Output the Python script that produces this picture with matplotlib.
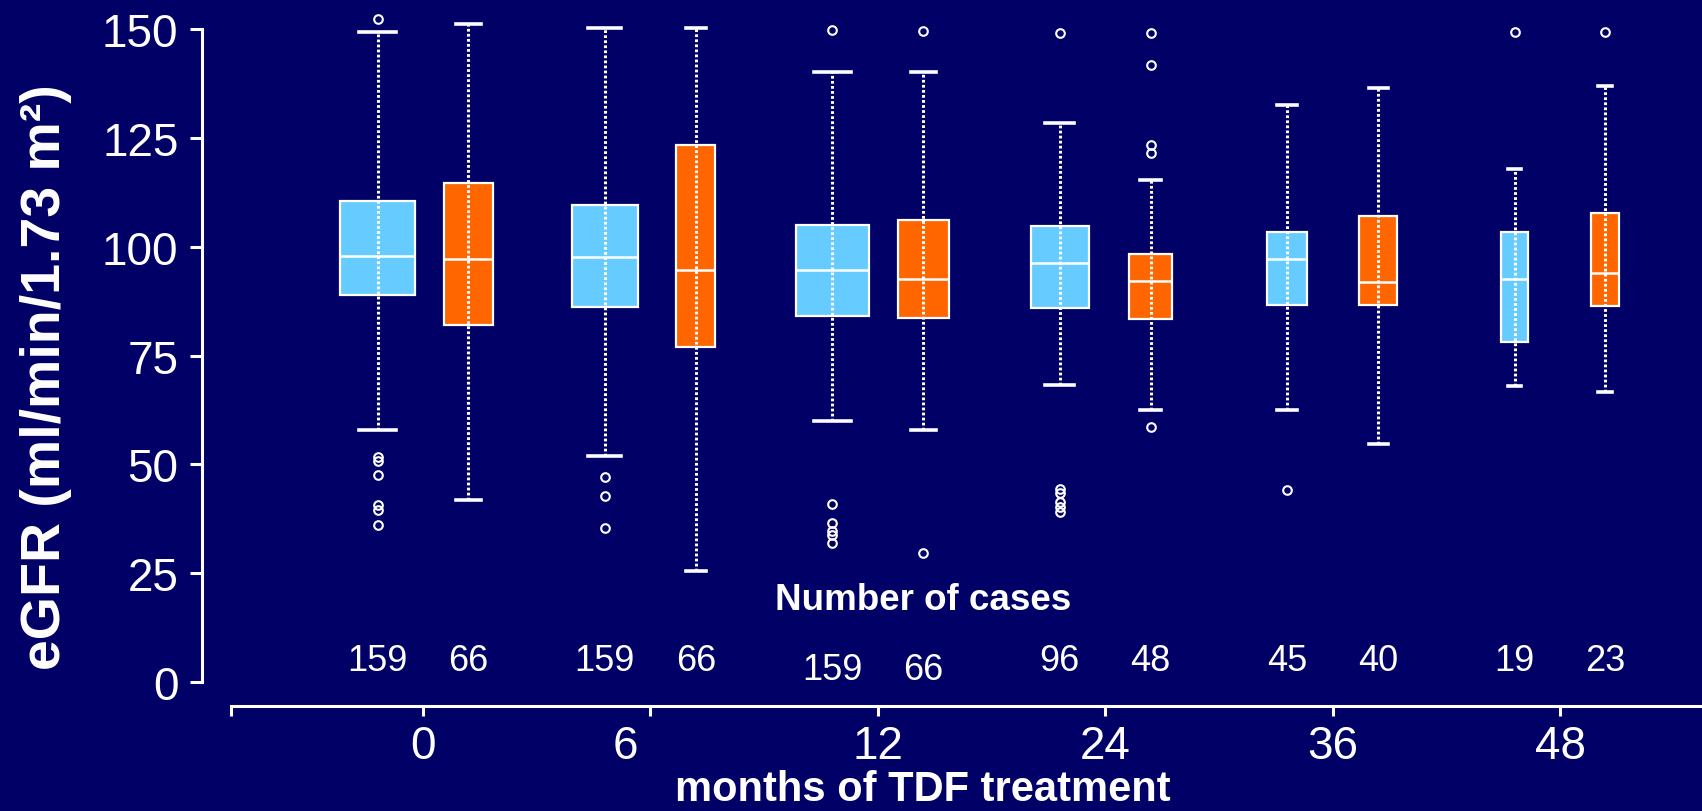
#!/usr/bin/env python3
"""
eGFR during TDF treatment: paired box plots per follow-up month,
with the number of cases written under each box.
"""

import matplotlib
matplotlib.use("Agg")
import matplotlib.pyplot as plt
from matplotlib.transforms import ScaledTranslation

# =========================================================
# Data
# =========================================================
months = ['0', '6', '12', '24', '36', '48']

# light blue series
blue_lo = [58.0, 51.9, 59.9, 68.2, 62.6, 68.0]
blue_q1 = [89.0, 86.2, 84.1, 86.0, 86.6, 78.2]
blue_med = [97.8, 97.6, 94.6, 96.2, 97.1, 92.7]
blue_q3 = [110.5, 109.6, 105.1, 104.9, 103.4, 103.4]
blue_hi = [149.3, 150.3, 140.3, 128.4, 132.6, 117.8]
blue_out = [[152.3, 51.7, 50.8, 47.5, 40.6, 39.6, 36.1],
            [47.2, 42.8, 35.4],
            [149.8, 40.8, 36.5, 34.7, 33.8, 31.9],
            [149.2, 44.3, 43.3, 41.4, 40.2, 39.0],
            [44.2],
            [149.5]]
blue_n = [159, 159, 159, 96, 45, 19]

# orange series
orange_lo = [41.8, 25.5, 58.0, 62.6, 54.6, 66.6]
orange_q1 = [82.1, 76.9, 83.7, 83.3, 86.6, 86.5]
orange_med = [97.2, 94.6, 92.5, 92.2, 91.9, 94.1]
orange_q3 = [114.7, 123.5, 106.1, 98.3, 107.1, 107.9]
orange_hi = [151.2, 150.3, 140.3, 115.3, 136.5, 137.0]
orange_out = [[], [], [149.6, 29.6], [149.2, 141.9, 123.5, 121.5, 58.5], [], [149.5]]
orange_n = [66, 66, 66, 48, 40, 23]

# =========================================================
# Style / layout
# =========================================================
BG = '#000066'
BLUE = '#66CCFF'
ORANGE = '#FF6600'
WHITE = 'white'

blue_w = [0.328, 0.289, 0.321, 0.255, 0.177, 0.120]
orange_w = [0.219, 0.172, 0.223, 0.188, 0.168, 0.123]
offset = 0.2          # half distance between the two boxes of a month
count_y = [4.8, 4.8, 2.9, 4.8, 4.8, 4.8]

plt.rcParams['font.family'] = ['Liberation Sans', 'DejaVu Sans']

W, H = 1702, 812
fig = plt.figure(figsize=(W / 100, H / 100), dpi=100, facecolor=BG)

# axes placed in pixels: y=150 at 30 px from the top, x axis line at 707 px
px_per_unit = 4.349
y0_px = 682.8
ax_bottom_px = 707
ymin = -(ax_bottom_px - y0_px) / px_per_unit
ax = fig.add_axes([202 / W, (H - ax_bottom_px) / H, 1 - 202 / W, (ax_bottom_px - 30.4) / H])
ax.set_facecolor(BG)

group_px = 227.4
first_px = 423
ax.set_xlim((202 - first_px) / group_px, (W - first_px) / group_px)
ax.set_ylim(ymin, 150)


def make_stats(lo, q1, med, q3, hi, out):
    return [dict(whislo=a, q1=b, med=c, q3=d, whishi=e, fliers=f)
            for a, b, c, d, e, f in zip(lo, q1, med, q3, hi, out)]


def draw_series(stats, pos, widths, color):
    art = ax.bxp(stats, positions=pos, widths=widths, capwidths=[w / 2 for w in widths],
                 patch_artist=True, manage_ticks=False,
                 boxprops=dict(facecolor=color, edgecolor=WHITE, linewidth=1.6),
                 medianprops=dict(color=WHITE, linewidth=1.8),
                 whiskerprops=dict(linestyle='none'),
                 capprops=dict(color=WHITE, linewidth=2.6),
                 flierprops=dict(marker='o', markerfacecolor='none', markeredgecolor=WHITE,
                                 markersize=6.2, markeredgewidth=1.5))
    for group in art.values():
        for a in group:
            a.set_clip_on(False)
    # dotted whisker runs through the box, cap to cap
    ax.vlines(pos, [s['whislo'] for s in stats], [s['whishi'] for s in stats],
              colors=WHITE, linewidth=2.2, linestyles=(0, (0.9, 0.75)), zorder=3,
              clip_on=False)


x = list(range(len(months)))
blue_pos = [i - offset for i in x]
orange_pos = [i + offset for i in x]

draw_series(make_stats(blue_lo, blue_q1, blue_med, blue_q3, blue_hi, blue_out),
            blue_pos, blue_w, BLUE)
draw_series(make_stats(orange_lo, orange_q1, orange_med, orange_q3, orange_hi, orange_out),
            orange_pos, orange_w, ORANGE)

# number of cases under each box
for p, n, yy in zip(blue_pos, blue_n, count_y):
    ax.text(p, yy, str(n), color=WHITE, fontsize=26, ha='center', va='center')
for p, n, yy in zip(orange_pos, orange_n, count_y):
    ax.text(p, yy, str(n), color=WHITE, fontsize=26, ha='center', va='center')
ax.text(2.2, 19.0, 'Number of cases', color=WHITE, fontsize=26.5, fontweight='bold',
        ha='center', va='center')

# =========================================================
# Axes cosmetics
# =========================================================
for s in ['top', 'right']:
    ax.spines[s].set_visible(False)
for s in ['left', 'bottom']:
    ax.spines[s].set_color(WHITE)
    ax.spines[s].set_linewidth(2.2)
ax.spines['left'].set_bounds(0, 150)
x_left = (231 - first_px) / group_px
ax.spines['bottom'].set_bounds(x_left, (W - first_px) / group_px)

ax.set_yticks([0, 25, 50, 75, 100, 125, 150])
ax.tick_params(axis='y', colors=WHITE, labelsize=33, length=9, width=2.2, pad=8)
ax.set_xticks([x_left] + x)
ax.set_xticklabels([''] + months)
ax.tick_params(axis='x', colors=WHITE, labelsize=33, length=7, width=2.2, pad=6)

# the "6" label sits a bit left of its tick in the original
lab = ax.get_xticklabels()[2]
lab.set_transform(lab.get_transform() + ScaledTranslation(-0.25, 0, fig.dpi_scale_trans))

fig.text(923 / W, 1 - 790 / H, 'months of TDF treatment', color=WHITE, fontsize=30,
         fontweight='bold', ha='center', va='center')
fig.text(46 / W, 1 - 377 / H, 'eGFR (ml/min/1.73 m²)', color=WHITE, fontsize=40,
         fontweight='bold', ha='center', va='center', rotation=90)

fig.savefig('out.png', dpi=100, facecolor=BG)
